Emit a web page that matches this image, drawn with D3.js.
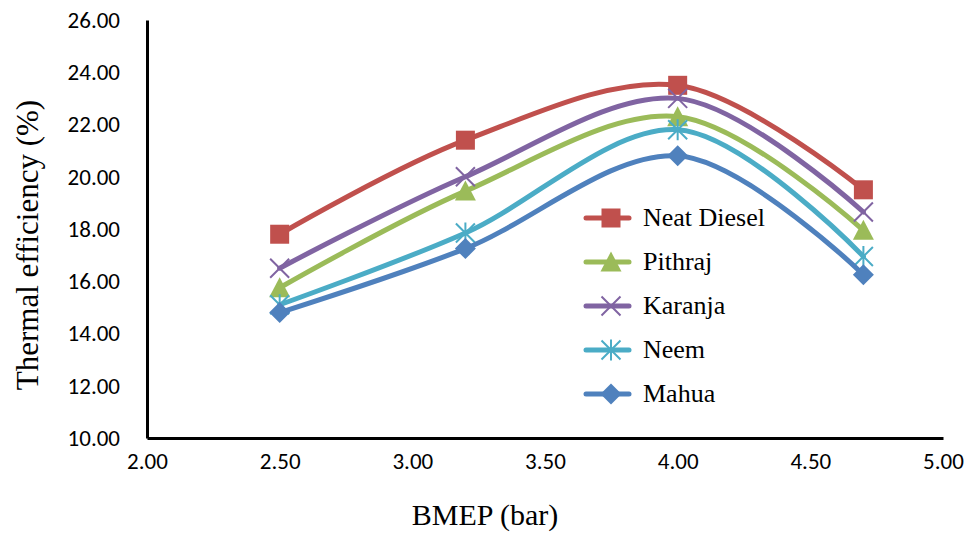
<!DOCTYPE html>
<html><head><meta charset="utf-8">
<script src="https://cdn.jsdelivr.net/npm/d3@7"></script>
<style>body{margin:0;background:#fff}svg{display:block}
text.serif{font-family:"Liberation Serif","DejaVu Serif",serif}
.tick text{font-family:Carlito,"Liberation Sans",sans-serif}
</style>
</head><body>
<svg id="c" width="971" height="534"></svg>
<script>
const bmep = [2.5, 3.2, 4.0, 4.7];
const seriesNames = ["Neat Diesel", "Pithraj", "Karanja", "Neem", "Mahua"];
const neatDiesel = [17.8, 21.4, 23.5, 19.5];
const pithraj = [15.75, 19.45, 22.3, 17.95];
const karanja = [16.5, 20.0, 23.0, 18.65];
const neem = [15.1, 17.85, 21.8, 16.95];
const mahua = [14.8, 17.25, 20.8, 16.25];
const xTicks = [2.0, 2.5, 3.0, 3.5, 4.0, 4.5, 5.0];
const yTicks = [10, 12, 14, 16, 18, 20, 22, 24, 26];

const values = [neatDiesel, pithraj, karanja, neem, mahua];
const colors = ["#C0504D", "#9BBB59", "#8064A2", "#4BACC6", "#4F81BD"];
const markers = ["square", "triangle", "x", "star", "diamond"];

const svg = d3.select("#c");
const x = d3.scaleLinear().domain([2, 5]).range([147, 943]);
const y = d3.scaleLinear().domain([10, 26]).range([438, 20]);

// axes
const xa = svg.append("g").attr("transform", `translate(0,${y(10)})`)
  .call(d3.axisBottom(x).tickValues(xTicks).tickFormat(d3.format(".2f")).tickSize(0).tickPadding(15));
xa.attr("font-family", null).attr("font-size", 23);
xa.select(".domain").attr("stroke", "#000").attr("stroke-width", 3);
xa.selectAll("text").attr("fill", "#000");
const ya = svg.append("g").attr("transform", `translate(${x(2)},0)`)
  .call(d3.axisLeft(y).tickValues(yTicks).tickFormat(d3.format(".2f")).tickSize(0).tickPadding(27));
ya.attr("font-family", null).attr("font-size", 23);
ya.select(".domain").attr("stroke", "#000").attr("stroke-width", 3);
ya.selectAll("text").attr("fill", "#000");

svg.append("text").attr("class", "serif").attr("x", 485).attr("y", 525).attr("text-anchor", "middle")
  .attr("font-size", 30).text("BMEP (bar)");
svg.append("text").attr("class", "serif").attr("transform", "translate(38,245) rotate(-90)").attr("text-anchor", "middle")
  .attr("font-size", 31).text("Thermal efficiency (%)");

function drawMarker(g, type, cx, cy, color) {
  const s = 9.5;
  if (type === "square") {
    g.append("rect").attr("x", cx - s).attr("y", cy - s).attr("width", 2 * s).attr("height", 2 * s).attr("fill", color);
  } else if (type === "triangle") {
    g.append("path").attr("d", `M${cx},${cy - s - 1}L${cx + s + 1},${cy + s}L${cx - s - 1},${cy + s}Z`).attr("fill", color);
  } else if (type === "diamond") {
    g.append("path").attr("d", `M${cx},${cy - s - 1}L${cx + s + 1},${cy}L${cx},${cy + s + 1}L${cx - s - 1},${cy}Z`).attr("fill", color);
  } else if (type === "x") {
    g.append("path").attr("d", `M${cx - s},${cy - s}L${cx + s},${cy + s}M${cx - s},${cy + s}L${cx + s},${cy - s}`)
      .attr("stroke", color).attr("stroke-width", 2);
  } else if (type === "star") {
    g.append("path").attr("d", `M${cx - s},${cy - s}L${cx + s},${cy + s}M${cx - s},${cy + s}L${cx + s},${cy - s}M${cx},${cy - s - 1}L${cx},${cy + s + 1}`)
      .attr("stroke", color).attr("stroke-width", 2);
  }
}

const line = d3.line().x(d => x(d[0])).y(d => y(d[1])).curve(d3.curveCardinal.tension(0));
seriesNames.forEach((name, i) => {
  const pts = bmep.map((b, j) => [b, values[i][j]]);
  const g = svg.append("g");
  g.append("path").attr("d", line(pts)).attr("fill", "none").attr("stroke", colors[i])
    .attr("stroke-width", 5).attr("stroke-linecap", "round");
  pts.forEach(p => drawMarker(g, markers[i], x(p[0]), y(p[1]), colors[i]));
});

// legend
const lg = svg.append("g");
seriesNames.forEach((name, i) => {
  const ly = 218 + i * 44;
  lg.append("line").attr("x1", 586).attr("x2", 629).attr("y1", ly).attr("y2", ly)
    .attr("stroke", colors[i]).attr("stroke-width", 5).attr("stroke-linecap", "round");
  drawMarker(lg, markers[i], 611, ly, colors[i]);
  lg.append("text").attr("class", "serif").attr("x", 643).attr("y", ly + 8)
    .attr("font-family", "Liberation Serif, DejaVu Serif, serif")
    .attr("font-size", 26).text(name);
});
</script>
</body></html>
